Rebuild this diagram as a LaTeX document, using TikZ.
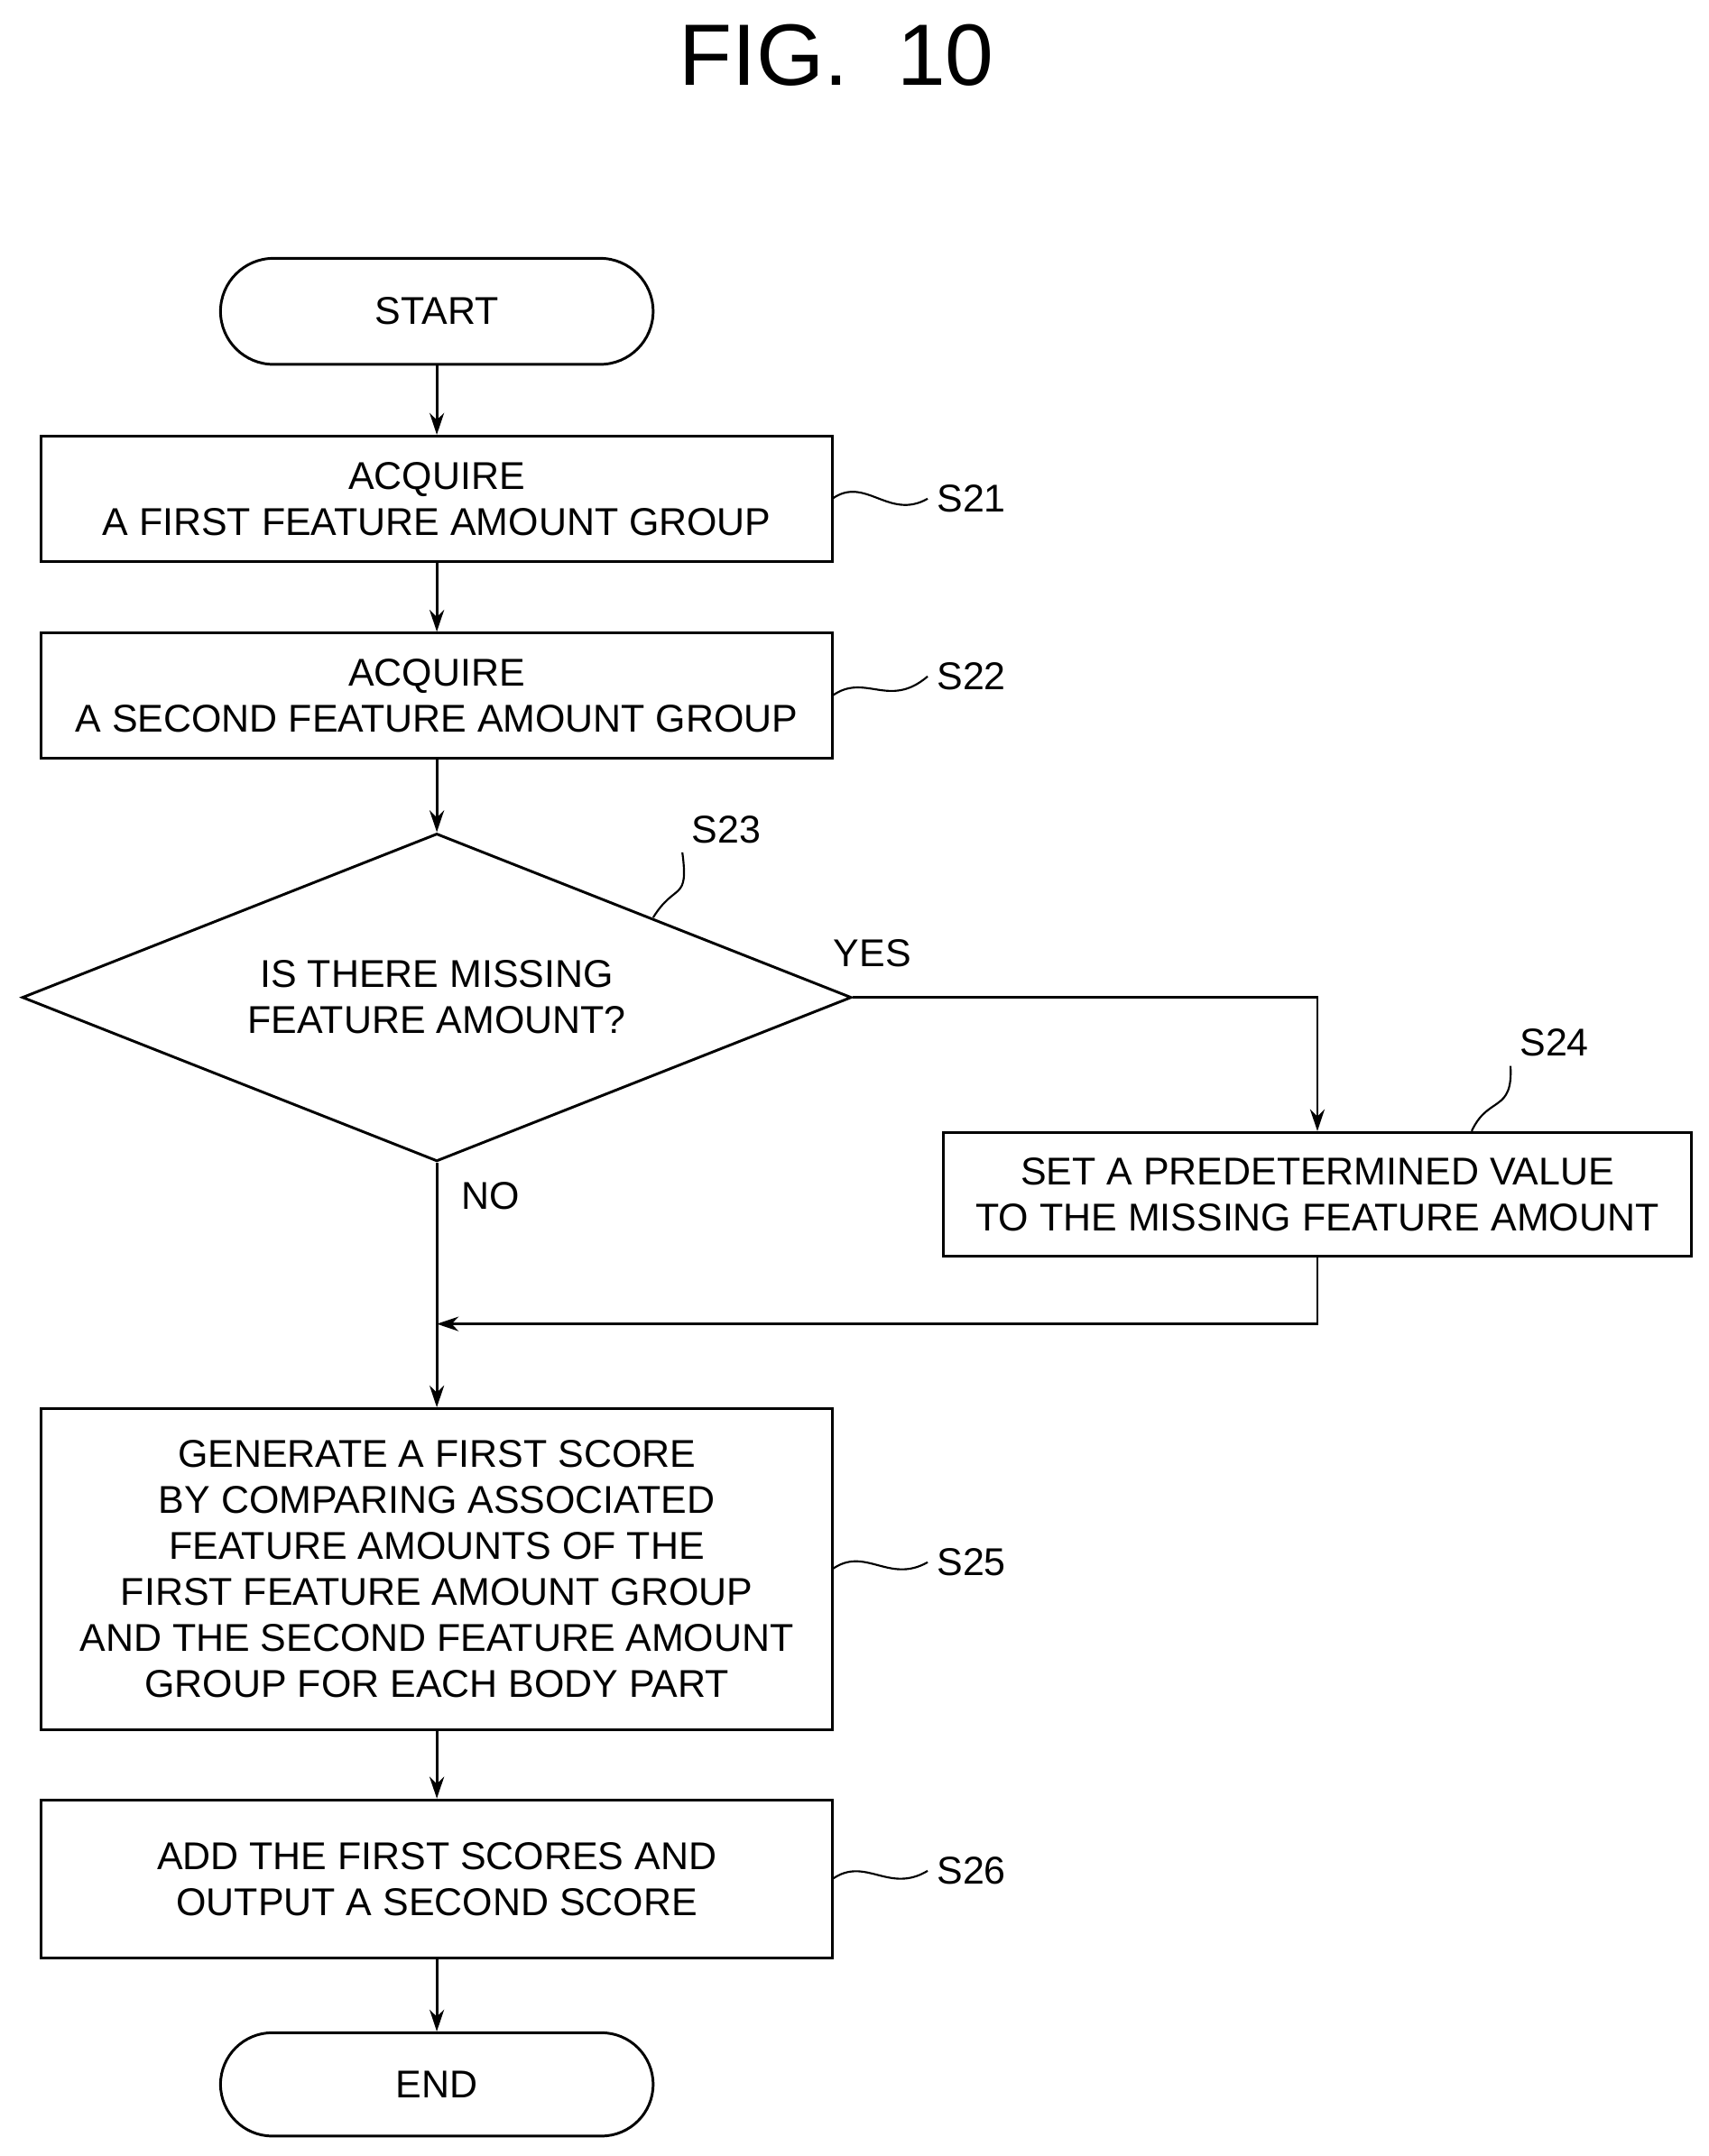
\documentclass[tikz,border=0pt]{standalone}
\usepackage{fontspec}
\setmainfont{Liberation Sans}
\usetikzlibrary{shapes.geometric,arrows.meta}
\begin{document}
\begin{tikzpicture}[x=0.02cm,y=-0.02cm,line width=1.1pt,
  txt/.style={font=\fontsize{16}{19}\selectfont,align=center},
  box/.style={draw,txt,inner sep=0pt},
  arr/.style={-{Stealth[length=9pt,width=6pt]}},
  lbl/.style={font=\fontsize{16}{19}\selectfont}]
\useasboundingbox (0,0) rectangle (1240,1565);
\node[font=\fontsize{36}{40}\selectfont] (title) at (607,40) {FIG.\ \ 10};
\node[box,rounded corners=38\pgflinewidth*0+0.77cm,minimum width=6.28cm,minimum height=1.54cm] (start) at (317,226) {START};
\node[box,minimum width=11.48cm,minimum height=1.82cm] (s21) at (317,362) {ACQUIRE\\A FIRST FEATURE AMOUNT GROUP};
\node[box,minimum width=11.48cm,minimum height=1.82cm] (s22) at (317,505) {ACQUIRE\\A SECOND FEATURE AMOUNT GROUP};
\node[draw,diamond,txt,aspect=2.53,minimum width=12.04cm,minimum height=4.76cm,inner sep=0pt] (s23) at (317,724) {IS THERE MISSING\\FEATURE AMOUNT?};
\node[box,minimum width=10.86cm,minimum height=1.8cm] (s24) at (956,867) {SET A PREDETERMINED VALUE\\TO THE MISSING FEATURE AMOUNT};
\node[box,minimum width=11.48cm,minimum height=4.66cm] (s25) at (317,1139) {GENERATE A FIRST SCORE\\BY COMPARING ASSOCIATED\\FEATURE AMOUNTS OF THE\\FIRST FEATURE AMOUNT GROUP\\AND THE SECOND FEATURE AMOUNT\\GROUP FOR EACH BODY PART};
\node[box,minimum width=11.48cm,minimum height=2.3cm] (s26) at (317,1364) {ADD THE FIRST SCORES AND\\OUTPUT A SECOND SCORE};
\node[box,rounded corners=0.75cm,minimum width=6.28cm,minimum height=1.5cm] (end) at (317,1513) {END};
\coordinate (m) at (317,961);
\draw[arr] (start) -- (s21);
\draw[arr] (s21) -- (s22);
\draw[arr] (s22) -- (s23.north);
\draw (s23.south) -- (m);
\draw[arr] (m) -- (s25);
\draw[arr] (s23.east) -| (s24.north);
\draw[arr] (s24.south) |- (m);
\draw[arr] (s25) -- (s26);
\draw[arr] (s26) -- (end);
\node[lbl] (yes) at (633,692) {YES};
\node[lbl] (no) at (356,868) {NO};
\node[lbl] (l21) at (705,362) {S21};
\node[lbl] (l22) at (705,491) {S22};
\node[lbl] (l23) at (527,602) {S23};
\node[lbl] (l24) at (1128,757) {S24};
\node[lbl] (l25) at (705,1134) {S25};
\node[lbl] (l26) at (705,1358) {S26};
\draw[line width=0.8pt] (604,362) .. controls (628,345) and (645,378) .. (l21.west);
\draw[line width=0.8pt] (604,505) .. controls (628,488) and (645,515) .. (l22.west);
\draw[line width=0.8pt] (474,666) .. controls (490,640) and (500,655) .. (l23.south west);
\draw[line width=0.8pt] (1068,821) .. controls (1080,795) and (1098,808) .. (l24.south west);
\draw[line width=0.8pt] (604,1139) .. controls (628,1122) and (645,1150) .. (l25.west);
\draw[line width=0.8pt] (604,1364) .. controls (628,1347) and (645,1375) .. (l26.west);
\end{tikzpicture}
\end{document}
